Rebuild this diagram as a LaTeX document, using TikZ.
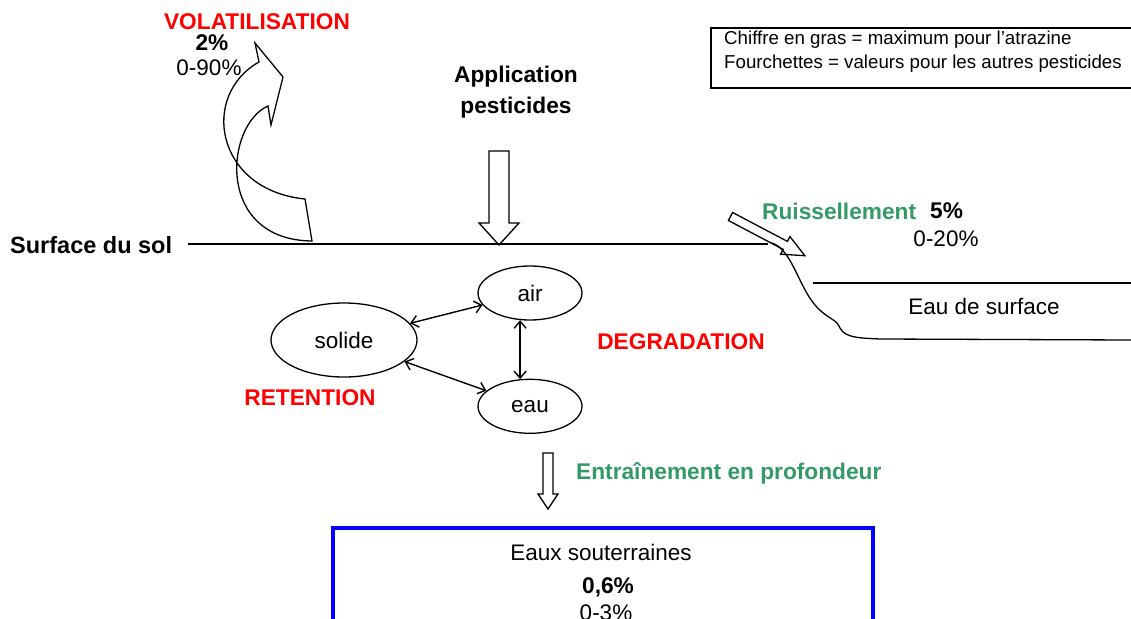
\documentclass[tikz,border=0pt]{standalone}
\usepackage{fontspec}
\setmainfont{Liberation Sans}
\usetikzlibrary{positioning, arrows.meta, shapes.geometric}

\definecolor{procred}{RGB}{255,0,0}
\definecolor{fluxgreen}{RGB}{51,153,102}
\definecolor{nappeblue}{RGB}{0,0,255}

\tikzset{
  txt/.style={font=\fontsize{22.5}{26}\selectfont, inner sep=0pt},
  boldtxt/.style={font=\fontsize{22.7}{26}\selectfont\bfseries, inner sep=0pt},
  process/.style={boldtxt, text=procred},
  flux/.style={boldtxt, text=fluxgreen},
  note/.style={font=\fontsize{18.7}{22}\selectfont, inner sep=0pt, anchor=west},
  phase/.style={draw, ellipse, txt, line width=1.3pt, minimum width=104pt, minimum height=54pt},
  exch/.style={{Straight Barb[length=7pt,width=12pt]}-{Straight Barb[length=7pt,width=12pt]}, line width=1.4pt},
  bigarrow/.style={draw, line width=1.3pt, line join=miter},
}

\begin{document}
\begin{tikzpicture}[x=1pt, y=-1pt]
    \useasboundingbox (0,0) rectangle (1131,618);

    % legende
    \draw[line width=1.2pt] (711,28) -- (1131,28);
    \draw[line width=2.6pt] (711,27) -- (711,88) -- (1131,88);
    \node[note] (leg1) at (724,40) {Chiffre en gras = maximum pour l'atrazine};
    \node[note] (leg2) at (724,64) {Fourchettes = valeurs pour les autres pesticides};

    % sol et eau de surface
    \node[boldtxt, font=\fontsize{23.5}{27}\selectfont\bfseries, anchor=west] (sol) at (10,245) {Surface du sol};
    \coordinate (solstart) at (188,244);
    \coordinate (solend) at (768,244);
    \draw[line width=1.3pt] (solstart) -- (solend);
    \draw[line width=1.3pt] (772,243) .. controls (792,250) and (798,285) .. (815,305)
        .. controls (828,320) and (836,318) .. (840,328)
        .. controls (845,338) and (860,338) .. (880,339) -- (1131,340);
    \draw[line width=1.3pt] (813,283) -- (1131,283);
    \node[txt] (surf) at (984,306) {Eau de surface};

    % application
    \node[boldtxt, align=center] (appli) at (516,92) {Application\\[5pt]pesticides};
    \draw[bigarrow] (489,151) -- (509,151) -- (509,223) -- (519,223) -- (499,245)
        -- (479,223) -- (489,223) -- cycle;

    % volatilisation
    \node[process] (volat) at (257,22) {VOLATILISATION};
    \node[boldtxt] (volmax) at (212,43) {2\%};
    \node[txt] (volrange) at (209,68) {0-90\%};
    \draw[bigarrow] (255,43) -- (283,77) -- (271,125) -- (268,106)
        .. controls (225,125) and (215,240) .. (312,241) -- (305,199)
        .. controls (215,190) and (200,95) .. (259,62) -- cycle;

    % ruissellement
    \node[flux, anchor=west] (ruis) at (762,211) {Ruissellement};
    \node[boldtxt, anchor=west] (ruismax) at (930,211) {5\%};
    \node[txt] (ruisrange) at (946,239) {0-20\%};
    \draw[bigarrow] (732.6,212.5) -- (787.4,241.4) -- (790.0,236.6) -- (804.8,255.7)
        -- (780.6,254.2) -- (783.2,249.4) -- (728.4,220.5) -- cycle;

    % phases du sol
    \node[phase] (air) at (530,293) {air};
    \node[phase, below=58pt of air] (eau) {eau};
    \node[phase, minimum width=146pt, minimum height=74pt] (solide) at (344,340) {solide};
    \draw[exch] (solide) -- (air);
    \draw[exch] (solide) -- (eau);
    \draw[exch] (air.250) -- (eau.110);

    \node[process] (degrad) at (681,342) {DEGRADATION};
    \node[process] (reten) at (310,398) {RETENTION};

    % entrainement
    \draw[bigarrow] (543,453) -- (553,453) -- (553,494) -- (558,494) -- (548,509)
        -- (538,494) -- (543,494) -- cycle;
    \node[flux, anchor=west] (entrain) at (576,473) {Entraînement en profondeur};

    % eaux souterraines
    \draw[nappeblue, line width=4pt] (333,640) -- (333,528) -- (873,528) -- (873,640);
    \node[txt] (nappe) at (601,552) {Eaux souterraines};
    \node[boldtxt] (nappemax) at (608,587) {0,6\%};
    \node[txt] (napperange) at (606,613) {0-3\%};
\end{tikzpicture}
\end{document}
